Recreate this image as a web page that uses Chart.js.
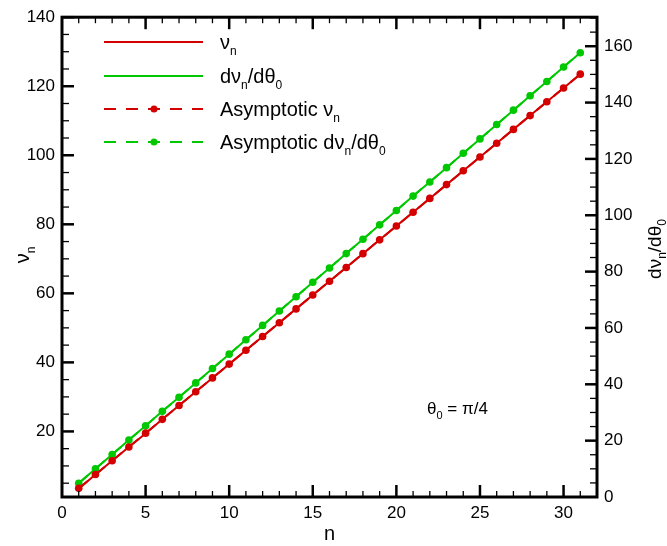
<!DOCTYPE html>
<html>
<head>
<meta charset="utf-8">
<script src="https://cdn.jsdelivr.net/npm/chart.js@4.4.1/dist/chart.umd.min.js"></script>
<style>
  html, body { margin: 0; padding: 0; background: #fff; }
  #wrap { width: 667px; height: 546px; }
</style>
</head>
<body>
<div id="wrap"><canvas id="chart"></canvas></div>
<script>
const FONT = '"Liberation Sans", Arial, sans-serif';
const RED = "#d40000";
const GREEN = "#00c800";

const nValues = [1, 2, 3, 4, 5, 6, 7, 8, 9, 10, 11, 12, 13, 14, 15, 16, 17, 18, 19, 20, 21, 22, 23, 24, 25, 26, 27, 28, 29, 30, 31];
const nuValues = [3.4, 7.5, 11.5, 15.5, 19.4, 23.5, 27.5, 31.5, 35.5, 39.5, 43.5, 47.5, 51.5, 55.5, 59.5, 63.5, 67.5, 71.5, 75.5, 79.5, 83.5, 87.5, 91.5, 95.5, 99.5, 103.5, 107.5, 111.5, 115.5, 119.5, 123.5];
const dnuValues = [4.9, 10.0, 15.1, 20.2, 25.3, 30.4, 35.4, 40.5, 45.6, 50.7, 55.8, 60.9, 66.0, 71.1, 76.2, 81.3, 86.4, 91.5, 96.6, 101.7, 106.8, 111.8, 116.9, 122.0, 127.1, 132.2, 137.3, 142.4, 147.5, 152.6, 157.7];
const asymNuValues = [3.5, 7.5, 11.5, 15.5, 19.5, 23.5, 27.5, 31.5, 35.5, 39.5, 43.5, 47.5, 51.5, 55.5, 59.5, 63.5, 67.5, 71.5, 75.5, 79.5, 83.5, 87.5, 91.5, 95.5, 99.5, 103.5, 107.5, 111.5, 115.5, 119.5, 123.5];
const asymDnuValues = [4.9, 10.0, 15.1, 20.2, 25.3, 30.4, 35.4, 40.5, 45.6, 50.7, 55.8, 60.9, 66.0, 71.1, 76.2, 81.3, 86.4, 91.5, 96.6, 101.7, 106.8, 111.8, 116.9, 122.0, 127.1, 132.2, 137.3, 142.4, 147.5, 152.6, 157.7];

const xTicks = [0, 5, 10, 15, 20, 25, 30];
const leftTicks = [20, 40, 60, 80, 100, 120, 140];
const rightTicks = [0, 20, 40, 60, 80, 100, 120, 140, 160];

function pts(ys) {
  return nValues.map((n, i) => ({ x: n, y: ys[i] }));
}

// draws text pieces, [text, isSubscript], starting at x
function richWidth(ctx, parts, size) {
  let w = 0;
  parts.forEach(([t, sub]) => {
    ctx.font = `${sub ? Math.round(size * 0.62) : size}px ${FONT}`;
    w += ctx.measureText(t).width;
  });
  return w;
}

function drawRich(ctx, parts, x, y, size) {
  let cx = x;
  ctx.textBaseline = "alphabetic";
  ctx.textAlign = "left";
  parts.forEach(([t, sub]) => {
    ctx.font = `${sub ? Math.round(size * 0.62) : size}px ${FONT}`;
    ctx.fillText(t, cx, y + (sub ? size * 0.28 : 0));
    cx += ctx.measureText(t).width;
  });
}

const legendItems = [
  { color: RED, dashed: false, parts: [["ν"], ["n", true]] },
  { color: GREEN, dashed: false, parts: [["dν"], ["n", true], ["/dθ"], ["0", true]] },
  { color: RED, dashed: true, parts: [["Asymptotic ν"], ["n", true]] },
  { color: GREEN, dashed: true, parts: [["Asymptotic dν"], ["n", true], ["/dθ"], ["0", true]] },
];

const framePlugin = {
  id: "frame",
  afterDraw(chart) {
    const { ctx, chartArea: a, scales } = chart;
    const x = scales.x, yl = scales.y, yr = scales.y2;
    ctx.save();
    ctx.strokeStyle = "#000";
    ctx.lineCap = "butt";

    // inward ticks
    function tick(x1, y1, x2, y2, w) {
      ctx.lineWidth = w;
      ctx.beginPath();
      ctx.moveTo(x1, y1);
      ctx.lineTo(x2, y2);
      ctx.stroke();
    }
    for (let v = 1; v < 32; v++) {
      const px = x.getPixelForValue(v);
      const major = v % 5 === 0;
      const len = major ? 12 : 6;
      tick(px, a.bottom, px, a.bottom - len, major ? 2.5 : 1.3);
      tick(px, a.top, px, a.top + len, major ? 2.5 : 1.3);
    }
    for (let v = 5; v <= 135; v += 5) {
      const py = yl.getPixelForValue(v);
      const major = v % 20 === 0;
      tick(a.left, py, a.left + (major ? 12 : 7), py, major ? 2.5 : 1.3);
    }
    tick(a.left, yl.getPixelForValue(140), a.left + 12, yl.getPixelForValue(140), 2.5);
    for (let v = 5; v <= 170; v += 5) {
      const py = yr.getPixelForValue(v);
      const major = v % 20 === 0;
      tick(a.right, py, a.right - (major ? 12 : 7), py, major ? 2.5 : 1.3);
    }

    // frame
    ctx.lineWidth = 3;
    ctx.strokeRect(a.left, a.top, a.right - a.left, a.bottom - a.top);

    // legend
    const lx1 = 104, lx2 = 203, tx = 220;
    const rows = [42, 76, 109, 142];
    legendItems.forEach((item, i) => {
      const y = rows[i];
      ctx.strokeStyle = item.color;
      ctx.lineWidth = 2;
      ctx.setLineDash(item.dashed ? [12, 10] : []);
      ctx.beginPath();
      ctx.moveTo(lx1, y);
      ctx.lineTo(lx2, y);
      ctx.stroke();
      ctx.setLineDash([]);
      if (item.dashed) {
        ctx.fillStyle = item.color;
        ctx.beginPath();
        ctx.arc(154, y, 3.5, 0, Math.PI * 2);
        ctx.fill();
      }
      ctx.fillStyle = "#000";
      drawRich(ctx, item.parts, tx, y + 7, 20);
    });

    // annotation
    ctx.fillStyle = "#000";
    drawRich(ctx, [["θ"], ["0", true], [" = π/4"]], 427, 414, 17);

    // axis titles
    ctx.font = `20px ${FONT}`;
    ctx.textAlign = "center";
    ctx.textBaseline = "alphabetic";
    ctx.fillText("n", (a.left + a.right) / 2, 540);

    const leftT = [["ν"], ["n", true]];
    ctx.save();
    ctx.translate(29, 255);
    ctx.rotate(-Math.PI / 2);
    drawRich(ctx, leftT, -richWidth(ctx, leftT, 20) / 2, 0, 20);
    ctx.restore();

    const rightT = [["dν"], ["n", true], ["/dθ"], ["0", true]];
    ctx.save();
    ctx.translate(661, 249);
    ctx.rotate(-Math.PI / 2);
    drawRich(ctx, rightT, -richWidth(ctx, rightT, 19) / 2, 0, 19);
    ctx.restore();

    ctx.restore();
  },
};

function fixTicks(values) {
  return (axis) => { axis.ticks = values.map((v) => ({ value: v })); };
}

const tickFont = { family: FONT, size: 17 };

new Chart(document.getElementById("chart"), {
  type: "line",
  data: {
    datasets: [
      { label: "nu", data: pts(nuValues), yAxisID: "y", borderColor: RED, borderWidth: 2, pointRadius: 0, order: 2 },
      { label: "dnu", data: pts(dnuValues), yAxisID: "y2", borderColor: GREEN, borderWidth: 2, pointRadius: 0, order: 2 },
      { label: "asym nu", data: pts(asymNuValues), yAxisID: "y", borderColor: RED, borderWidth: 2, borderDash: [12, 10],
        pointRadius: 3.8, pointBackgroundColor: RED, pointBorderWidth: 0, order: 1 },
      { label: "asym dnu", data: pts(asymDnuValues), yAxisID: "y2", borderColor: GREEN, borderWidth: 2, borderDash: [12, 10],
        pointRadius: 3.8, pointBackgroundColor: GREEN, pointBorderWidth: 0, order: 1 },
    ],
  },
  options: {
    responsive: true,
    maintainAspectRatio: false,
    animation: false,
    layout: { padding: { top: 10 } },
    plugins: { legend: { display: false }, tooltip: { enabled: false } },
    scales: {
      x: {
        type: "linear", min: 0, max: 32,
        grid: { display: false, drawTicks: false },
        border: { display: false },
        afterBuildTicks: fixTicks(xTicks),
        afterFit: (s) => { s.height = 49; },
        ticks: { font: tickFont, color: "#000", padding: 6, maxRotation: 0 },
      },
      y: {
        type: "linear", position: "left", min: 1, max: 140,
        grid: { display: false, drawTicks: false },
        border: { display: false },
        afterBuildTicks: fixTicks(leftTicks),
        afterFit: (s) => { s.width = 62; },
        ticks: { font: tickFont, color: "#000", padding: 7 },
      },
      y2: {
        type: "linear", position: "right", min: 0, max: 170.3,
        grid: { display: false, drawTicks: false },
        border: { display: false },
        afterBuildTicks: fixTicks(rightTicks),
        afterFit: (s) => { s.width = 70; },
        ticks: { font: tickFont, color: "#000", padding: 7 },
      },
    },
  },
  plugins: [framePlugin],
});
</script>
</body>
</html>
